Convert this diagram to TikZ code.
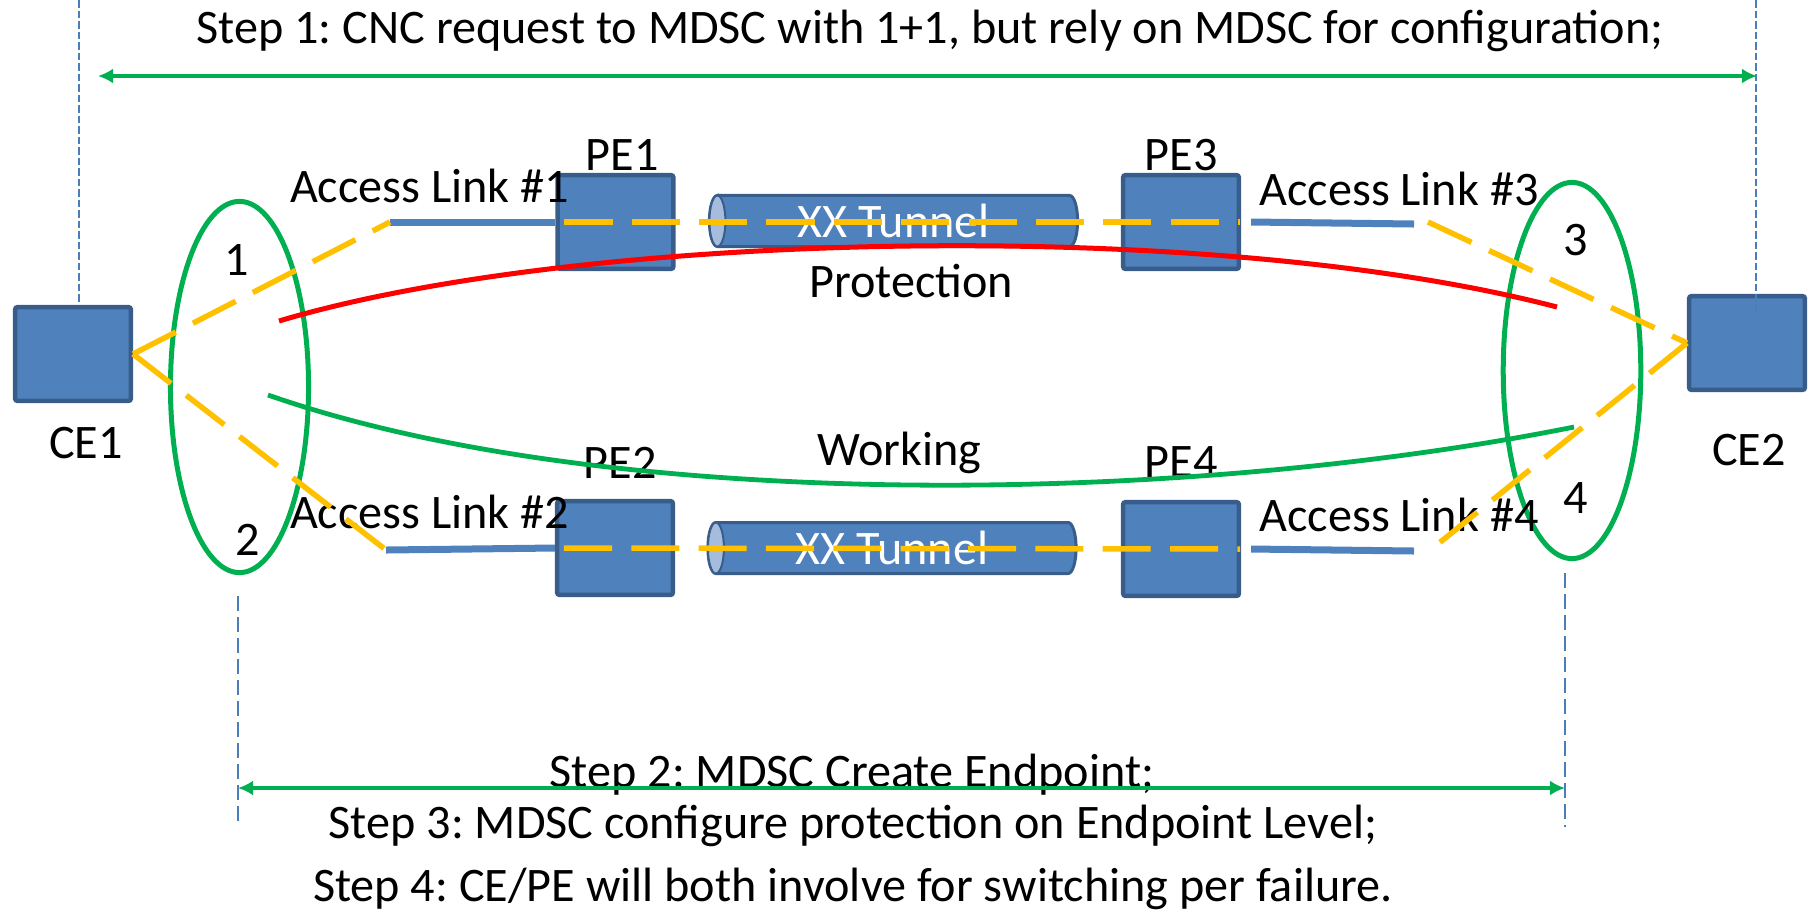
\documentclass[tikz,border=0pt]{standalone}
\usepackage{fontspec}
\setmainfont{Carlito}
\usetikzlibrary{arrows.meta,shapes.geometric}
\frenchspacing

\definecolor{boxfill}{HTML}{4F81BD}
\definecolor{boxline}{HTML}{385D8A}
\definecolor{tubeend}{HTML}{A5BCDD}
\definecolor{linkyellow}{HTML}{FFC000}
\definecolor{okgreen}{HTML}{00B050}
\definecolor{alarmred}{HTML}{FF0000}
\definecolor{guideblue}{HTML}{4A7EBB}

\begin{document}
\begin{tikzpicture}[
			x=0.01cm, y=-0.01cm,
			>={Latex[length=0.15cm,width=0.15cm]},
			font=\fontsize{13.7}{16.4}\selectfont,
			device/.style={draw=boxline, fill=boxfill, line width=0.045cm, rounded corners=0.02cm,
				minimum width=1.155cm, minimum height=0.935cm, inner sep=0pt},
			tunnel/.style={minimum width=3.71cm, minimum height=0.54cm, inner sep=0pt, text=white,
				path picture={
					\draw[boxline, fill=boxfill, line width=0.03cm]
						([xshift=0.095cm,yshift=-0.015cm]path picture bounding box.north west)
						-- ([xshift=-0.095cm,yshift=-0.015cm]path picture bounding box.north east)
						arc[start angle=90, end angle=-90, x radius=0.08cm, y radius=0.255cm]
						-- ([xshift=0.095cm,yshift=0.015cm]path picture bounding box.south west)
						arc[start angle=270, end angle=90, x radius=0.08cm, y radius=0.255cm] -- cycle;
					\draw[boxline, fill=tubeend, line width=0.02cm]
						([xshift=0.095cm]path picture bounding box.west) ellipse[x radius=0.08cm, y radius=0.255cm];
				}},
			endpoint/.style={ellipse, draw=okgreen, line width=0.05cm, inner sep=0pt},
			lbl/.style={anchor=base, inner sep=0pt},
			access/.style={draw=boxfill, line width=0.07cm},
			route/.style={draw=linkyellow, line width=0.055cm, dash pattern=on 0.48cm off 0.193cm},
			protect/.style={draw=alarmred, line width=0.05cm},
			work/.style={draw=okgreen, line width=0.048cm},
			guide/.style={draw=guideblue, line width=0.02cm, dash pattern=on 0.15cm off 0.06cm},
			fine guide/.style={draw=guideblue, line width=0.018cm, dash pattern=on 0.075cm off 0.03cm},
			span/.style={<->, draw=okgreen, line width=0.035cm}
	]
	\useasboundingbox (0,0) rectangle (1812,911);

	% >> devices and tunnels
	\node[device] (ce1) at (73,354) {};
	\node[device] (ce2) at (1747,343) {};
	\node[device] (pe1) at (615.5,222) {};
	\node[device] (pe2) at (615,548) {};
	\node[device] (pe3) at (1181,222) {};
	\node[device] (pe4) at (1181,549) {};
	\node[tunnel] (tun1) at (893.5,221) {XX Tunnel};
	\node[tunnel] (tun2) at (892,548) {XX Tunnel};

	% >> endpoints
	\node[endpoint, minimum width=1.38cm, minimum height=3.71cm] (ep1) at (239.5,387) {};
	\node[endpoint, minimum width=1.375cm, minimum height=3.76cm] (ep2) at (1572,370.5) {};

	% >> labels
	\node[lbl] (ce1l) at (86,458) {CE1};
	\node[lbl] (ce2l) at (1749,465) {CE2};
	\node[lbl] (pe1l) at (622,170) {PE1};
	\node[lbl] (pe2l) at (620,478) {PE2};
	\node[lbl] (pe3l) at (1181,170) {PE3};
	\node[lbl] (pe4l) at (1181,477) {PE4};
	\node[lbl] (acc1) at (429.5,202) {Access Link \#1};
	\node[lbl] (acc2) at (429.5,528) {Access Link \#2};
	\node[lbl] (acc3) at (1399,205) {Access Link \#3};
	\node[lbl] (acc4) at (1399,531) {Access Link \#4};
	\node[lbl] (prot) at (911,297) {Protection};
	\node[lbl] (wrk) at (899.5,465) {Working};
	\node[lbl] (n1) at (236.5,275) {1};
	\node[lbl] (n2) at (248,555) {2};
	\node[lbl] (n3) at (1575.5,255) {3};
	\node[lbl] (n4) at (1575.5,513) {4};
	\node[lbl] (step1) at (930,43) {Step 1: CNC request to MDSC with 1+1, but rely on MDSC for configuration;};
	\node[lbl] (step2) at (852,787) {Step 2: MDSC Create Endpoint;};
	\node[lbl] (step3) at (853,838) {Step 3: MDSC configure protection on Endpoint Level;};
	\node[lbl] (step4) at (853,901) {Step 4: CE/PE will both involve for switching per failure.};

	% >> free ends
	\coordinate (al1) at (390,222);
	\coordinate (al2) at (386,550);
	\coordinate (al3) at (1414,224);
	\coordinate (al4) at (1414,551);
	\coordinate (y3) at (1428,222);
	\coordinate (y4) at (1428,552);
	\coordinate (protA) at (279,321);
	\coordinate (protB) at (1557,307);
	\coordinate (workA) at (268,395);
	\coordinate (workB) at (1574,427);
	\coordinate (g1t) at (79,0);
	\coordinate (g1b) at (79,302);
	\coordinate (g2t) at (1756,0);
	\coordinate (g2b) at (1756,313);
	\coordinate (g3t) at (238,596);
	\coordinate (g3b) at (238,822);
	\coordinate (g4t) at (1565,573);
	\coordinate (g4b) at (1565,827);
	\coordinate (s1a) at (98,76);
	\coordinate (s1b) at (1757,76);
	\coordinate (s2a) at (238,788);
	\coordinate (s2b) at (1565,788);

	% >> guides and spans
	\draw[fine guide] (g1t) -- (g1b);
	\draw[fine guide] (g2t) -- (g2b);
	\draw[guide] (g3t) -- (g3b);
	\draw[guide] (g4t) -- (g4b);
	\draw[span] (s1a) -- (s1b);
	\draw[span] (s2a) -- (s2b);

	% >> access links
	\draw[access] (al1) -- (pe1.west);
	\draw[access] (al2) -- (pe2.west);
	\draw[access] ([xshift=0.1cm]pe3.east) -- (al3);
	\draw[access] ([xshift=0.1cm]pe4.east) -- (al4);

	% >> service paths
	\draw[route] (ce1.east) -- (al1);
	\draw[route] (ce1.east) -- (al2);
	\draw[route] ([xshift=0.09cm]pe1.west) -- ([xshift=-0.01cm]pe3.east);
	\draw[route] ([xshift=0.09cm]pe2.west) -- ([xshift=-0.01cm]pe4.east);
	\draw[route] (y3) -- (ce2.west);
	\draw[route] (ce2.west) -- (y4);

	\draw[protect] (protA) .. controls (580,231) and (1208,216) .. (protB);
	\draw[work] (workA) .. controls (606,513) and (1180,506) .. (workB);
\end{tikzpicture}
\end{document}
